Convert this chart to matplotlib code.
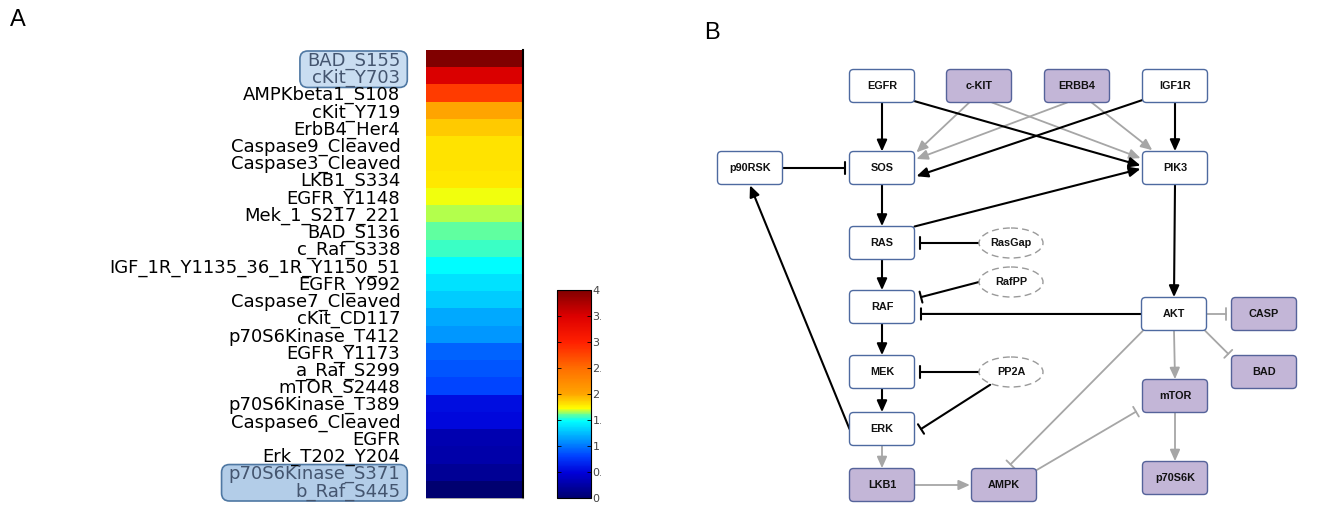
import numpy as np
import matplotlib
matplotlib.use("Agg")
import matplotlib.pyplot as plt
from matplotlib.colors import LinearSegmentedColormap
from matplotlib.patches import FancyBboxPatch, FancyArrowPatch, Ellipse, ArrowStyle
from matplotlib.transforms import Bbox, TransformedBbox

# ---------------- data: panel A ----------------
phospho_labels = [
    "BAD_S155", "cKit_Y703", "AMPKbeta1_S108", "cKit_Y719", "ErbB4_Her4",
    "Caspase9_Cleaved", "Caspase3_Cleaved", "LKB1_S334", "EGFR_Y1148",
    "Mek_1_S217_221", "BAD_S136", "c_Raf_S338", "IGF_1R_Y1135_36_1R_Y1150_51",
    "EGFR_Y992", "Caspase7_Cleaved", "cKit_CD117", "p70S6Kinase_T412",
    "EGFR_Y1173", "a_Raf_S299", "mTOR_S2448", "p70S6Kinase_T389",
    "Caspase6_Cleaved", "EGFR", "Erk_T202_Y204", "p70S6Kinase_S371", "b_Raf_S445",
]
phospho_values = [
    4.00, 3.50, 2.82, 2.00, 1.89, 1.80, 1.80, 1.79, 1.71, 1.67, 1.60, 1.56, 1.48,
    1.39, 1.30, 1.18, 1.11, 0.93, 0.875, 0.82, 0.56, 0.52, 0.31, 0.28, 0.18, 0.0,
]
highlight_groups = [["BAD_S155", "cKit_Y703"], ["p70S6Kinase_S371", "b_Raf_S445"]]
colorbar_ticks = [0, 0.5, 1, 1.5, 2, 2.5, 3, 3.5, 4]
colorbar_ticklabels = ["0", "0.5", "1", "1.5", "2", "2.5", "3", "3.5", "4"]

# ---------------- data: panel B ----------------
node_names = ["EGFR", "c-KIT", "ERBB4", "IGF1R", "p90RSK", "SOS", "PIK3", "RAS",
              "RAF", "MEK", "ERK", "AKT", "CASP", "BAD", "mTOR", "p70S6K",
              "LKB1", "AMPK", "RasGap", "RafPP", "PP2A"]
purple_nodes = ["c-KIT", "ERBB4", "CASP", "BAD", "mTOR", "p70S6K", "LKB1", "AMPK"]
phosphatase_nodes = ["RasGap", "RafPP", "PP2A"]
# (source, target, colour group, interaction)
edges = [
    ("EGFR", "SOS", "black", "act"), ("EGFR", "PIK3", "black", "act"),
    ("c-KIT", "SOS", "gray", "act"), ("c-KIT", "PIK3", "gray", "act"),
    ("ERBB4", "SOS", "gray", "act"), ("ERBB4", "PIK3", "gray", "act"),
    ("IGF1R", "SOS", "black", "act"), ("IGF1R", "PIK3", "black", "act"),
    ("SOS", "RAS", "black", "act"), ("RAS", "PIK3", "black", "act"),
    ("RAS", "RAF", "black", "act"), ("RAF", "MEK", "black", "act"),
    ("MEK", "ERK", "black", "act"), ("ERK", "p90RSK", "black", "act"),
    ("PIK3", "AKT", "black", "act"),
    ("p90RSK", "SOS", "black", "inh"), ("RasGap", "RAS", "black", "inh"),
    ("RafPP", "RAF", "black", "inh"), ("AKT", "RAF", "black", "inh"),
    ("PP2A", "MEK", "black", "inh"), ("PP2A", "ERK", "black", "inh"),
    ("ERK", "LKB1", "gray", "act"), ("LKB1", "AMPK", "gray", "act"),
    ("AKT", "mTOR", "gray", "act"), ("mTOR", "p70S6K", "gray", "act"),
    ("AKT", "CASP", "gray", "inh"), ("AKT", "BAD", "gray", "inh"),
    ("AKT", "AMPK", "gray", "inh"), ("AMPK", "mTOR", "gray", "inh"),
]

# ---------------- layout (pixel coordinates of the diagram) ----------------
node_pos = {
    "EGFR": (882, 86), "c-KIT": (979, 86), "ERBB4": (1077, 86), "IGF1R": (1175, 86),
    "p90RSK": (750, 168), "SOS": (882, 168), "PIK3": (1175, 168), "RAS": (882, 243),
    "RAF": (882, 307), "MEK": (882, 372), "ERK": (882, 429), "AKT": (1174, 314),
    "CASP": (1264, 314), "BAD": (1264, 372), "mTOR": (1175, 396), "p70S6K": (1175, 478),
    "LKB1": (882, 485), "AMPK": (1004, 485),
    "RasGap": (1011, 243), "RafPP": (1011, 282), "PP2A": (1011, 372),
}
BOX_W, BOX_H = 65, 33
ELL_W, ELL_H = 64, 30
# attachment points as fractions of the half width / half height of each node
edge_anchor = {
    ("EGFR", "SOS"): ((0, 1), (0, -1)),
    ("EGFR", "PIK3"): ((0.97, 0.9), (-1.06, -0.15)),
    ("c-KIT", "SOS"): ((-0.3, 1), (1.06, -0.95)),
    ("c-KIT", "PIK3"): ((0.4, 1), (-1.06, -0.6)),
    ("ERBB4", "SOS"): ((-0.3, 1), (1.06, -0.55)),
    ("ERBB4", "PIK3"): ((0.45, 1), (-0.7, -1.08)),
    ("IGF1R", "SOS"): ((-1, 0.85), (1.06, 0.5)),
    ("IGF1R", "PIK3"): ((0, 1), (0, -1.02)),
    ("SOS", "RAS"): ((0, 1), (0, -1.02)),
    ("RAS", "PIK3"): ((1, -1), (-1.06, 0.05)),
    ("RAS", "RAF"): ((0, 1), (0, -1.02)),
    ("RAF", "MEK"): ((0, 1), (0, -1.02)),
    ("MEK", "ERK"): ((0, 1), (0, -1.02)),
    ("ERK", "p90RSK"): ((-1, 0), (0, 1.05)),
    ("PIK3", "AKT"): ((0, 1), (0, -1.02)),
    ("p90RSK", "SOS"): ((1, 0), (-1.15, 0)),
    ("RasGap", "RAS"): ((-1, 0), (1.17, 0)),
    ("RafPP", "RAF"): ((-1, 0), (1.2, -0.6)),
    ("AKT", "RAF"): ((-1, 0), (1.2, 0.42)),
    ("PP2A", "MEK"): ((-1, 0), (1.17, 0)),
    ("PP2A", "ERK"): ((-0.65, 0.85), (1.2, 0)),
    ("ERK", "LKB1"): ((0, 1), (0, -1.02)),
    ("LKB1", "AMPK"): ((1, 0), (-1.05, 0)),
    ("AKT", "mTOR"): ((0, 1), (0, -1.02)),
    ("mTOR", "p70S6K"): ((0, 1), (0, -1.02)),
    ("AKT", "CASP"): ((1, 0), (-1.17, 0)),
    ("AKT", "BAD"): ((0.95, 1), (-1.1, -1.1)),
    ("AKT", "AMPK"): ((-0.95, 1), (0.2, -1.25)),
    ("AMPK", "mTOR"): ((1, -0.9), (-1.2, 0.95)),
}

W, H = 1323, 508
fig = plt.figure(figsize=(W / 100, H / 100), dpi=100)

# ---------------- custom colormap (jet-like, compressed green) ----------------
cmap = LinearSegmentedColormap.from_list("heat", [
    (0.00, "#000070"), (0.12, "#0000d8"), (0.20, "#0040ff"), (0.30, "#00b0ff"),
    (0.37, "#00ffff"), (0.40, "#60ffa0"), (0.43, "#ffff00"), (0.46, "#ffd800"),
    (0.50, "#ffa500"), (0.62, "#ff7000"), (0.75, "#ff2000"), (0.875, "#dd0000"),
    (1.00, "#800000"),
])

# ---------------- panel A: heatmap ----------------
ax = fig.add_axes([426 / W, 1 - 498 / H, 97 / W, 448 / H])
vals = np.array(phospho_values).reshape(-1, 1)
im = ax.imshow(vals, cmap=cmap, vmin=0, vmax=4, aspect="auto", interpolation="nearest")
ax.set_xticks([])
ax.set_yticks(np.arange(len(phospho_labels)))
ax.set_yticklabels(phospho_labels, fontsize=13, family="DejaVu Sans")
ax.tick_params(axis="y", length=0, pad=18.5)
for side in ["left", "top"]:
    ax.spines[side].set_visible(False)
ax.spines["right"].set_color("black")
ax.spines["right"].set_linewidth(1.5)
ax.spines["bottom"].set_color("#9a9a9a")
ax.spines["bottom"].set_linewidth(0.6)

hl_set = {n for g in highlight_groups for n in g}
for lab in ax.get_yticklabels():
    if lab.get_text() in hl_set:
        lab.set_color("#44556f")

fig.text(18 / W, 1 - 20 / H, "A", fontsize=17, ha="center", va="center", family="Liberation Sans")
fig.text(712 / W, 1 - 33 / H, "B", fontsize=17, ha="center", va="center", family="Liberation Sans")

# colorbar
cax = fig.add_axes([557 / W, 1 - 498 / H, 34 / W, 208 / H])
cb = fig.colorbar(im, cax=cax, ticks=colorbar_ticks)
cb.set_ticklabels(colorbar_ticklabels)
cb.outline.set_edgecolor("black")
cb.outline.set_linewidth(0.8)
cax.tick_params(direction="in", length=3, width=0.6, left=True, right=True,
                labelsize=8, labelcolor="#444444", pad=1.0)
clip = TransformedBbox(Bbox([[0, 0], [601 / W, 1]]), fig.transFigure)
for lab in cax.get_yticklabels():
    lab.set_clip_box(clip)
    lab.set_clip_on(True)

# highlight boxes behind the highlighted labels
fig.canvas.draw()
renderer = fig.canvas.get_renderer()
label_map = {lab.get_text(): lab for lab in ax.get_yticklabels()}
row_h = 448 / len(phospho_labels)
for gi, group in enumerate(highlight_groups):
    exts = [label_map[n].get_window_extent(renderer) for n in group]
    x0 = min(e.x0 for e in exts) - 7
    x1 = max(e.x1 for e in exts) + 7
    idx = [phospho_labels.index(n) for n in group]
    top = 50 + min(idx) * row_h + 1
    bot = 50 + (max(idx) + 1) * row_h + 3
    y0 = H - bot
    y1 = H - top
    face = "#c9ddf1" if gi == 0 else "#b3cde8"
    box = FancyBboxPatch((x0 / W, y0 / H), (x1 - x0) / W, (y1 - y0) / H,
                         boxstyle="round,pad=0,rounding_size=0.006",
                         transform=fig.transFigure, facecolor=face,
                         edgecolor="#4f78a3", linewidth=1.2, zorder=-1,
                         mutation_aspect=W / H)
    fig.add_artist(box)

# ---------------- panel B: network diagram ----------------
axb = fig.add_axes([700 / W, 0, (W - 700) / W, 1])
axb.set_xlim(700, W)
axb.set_ylim(H, 0)
axb.axis("off")

GRAY = "#a6a6a6"
for name in node_names:
    x, y = node_pos[name]
    if name in phosphatase_nodes:
        e = Ellipse((x, y), ELL_W, ELL_H, facecolor="white", edgecolor="#9a9a9a",
                    linewidth=1.0, linestyle=(0, (5, 3)), zorder=3)
        axb.add_patch(e)
    else:
        purple = name in purple_nodes
        p = FancyBboxPatch((x - BOX_W / 2, y - BOX_H / 2), BOX_W, BOX_H,
                           boxstyle="round,pad=0,rounding_size=4",
                           facecolor="#c3b6d7" if purple else "white",
                           edgecolor="#55639a" if purple else "#4e6aa0",
                           linewidth=1.0, zorder=3)
        axb.add_patch(p)
    axb.text(x, y, name, ha="center", va="center", fontsize=7.8, fontweight="bold",
             family="Liberation Sans", color="#111111", zorder=4)


def anchor(name, frac):
    x, y = node_pos[name]
    if name in phosphatase_nodes:
        hw, hh = ELL_W / 2, ELL_H / 2
    else:
        hw, hh = BOX_W / 2, BOX_H / 2
    return (x + frac[0] * hw, y + frac[1] * hh)


act_style = ArrowStyle("-|>", head_length=0.45, head_width=0.2)
inh_style = ArrowStyle("-[", widthB=0.27, lengthB=0.0)
for src, dst, col, kind in edges:
    fa, fb = edge_anchor[(src, dst)]
    pa, pb = anchor(src, fa), anchor(dst, fb)
    color = "black" if col == "black" else GRAY
    lw = 1.5 if col == "black" else 1.3
    arr = FancyArrowPatch(pa, pb, arrowstyle=act_style if kind == "act" else inh_style,
                          mutation_scale=15, color=color, linewidth=lw,
                          shrinkA=0, shrinkB=0, zorder=2 if col == "black" else 1)
    axb.add_patch(arr)

fig.savefig("out.png", dpi=100)
